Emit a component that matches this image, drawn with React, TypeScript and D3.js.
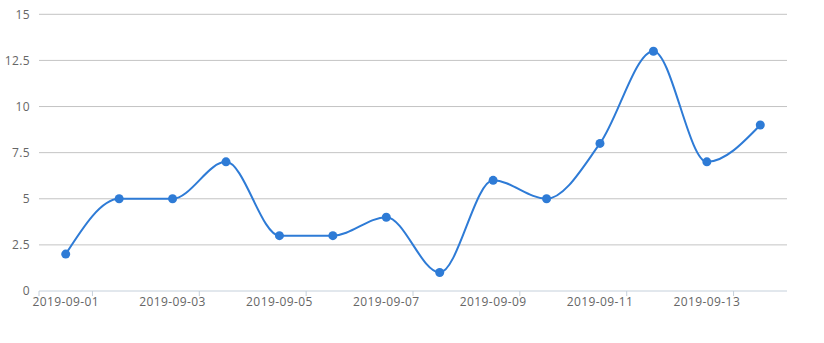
import React from "react";
import * as d3 from "d3";

const dates = [
  "2019-09-01", "2019-09-02", "2019-09-03", "2019-09-04", "2019-09-05",
  "2019-09-06", "2019-09-07", "2019-09-08", "2019-09-09", "2019-09-10",
  "2019-09-11", "2019-09-12", "2019-09-13", "2019-09-14",
];
const values = [2, 5, 5, 7, 3, 3, 4, 1, 6, 5, 8, 13, 7, 9];
const yTicks = [0, 2.5, 5, 7.5, 10, 12.5, 15];

const W = 824;
const H = 343;
const left = 39;
const right = 787;
const top = 14.3;
const bottom = 291;
const blue = "#2e7bd6";
const font = "'Open Sans', sans-serif";

export default function App() {
  const x = d3.scaleBand<string>().domain(dates).range([left, right]).padding(0);
  const y = d3.scaleLinear().domain([0, 15]).range([bottom, top]);
  const cx = (d: string) => (x(d) as number) + x.bandwidth() / 2;
  const line = d3
    .line<number>()
    .x((_, i) => cx(dates[i]))
    .y((v) => y(v))
    .curve(d3.curveMonotoneX);

  const tickXs = [left, ...dates.filter((_, i) => i % 2 === 0).map((d) => (x(d) as number) + x.bandwidth())];

  return (
    <svg width={W} height={H} style={{ position: "absolute", left: 0, top: 0 }}>
      {yTicks.map((t) => (
        <g key={t}>
          {t !== 0 && (
            <line x1={left} x2={right} y1={y(t)} y2={y(t)} stroke="#c4c4c4" strokeWidth={1} />
          )}
          <text
            x={30}
            y={y(t)}
            dy="0.35em"
            textAnchor="end"
            fontFamily={font}
            fontSize={12}
            letterSpacing={0.4}
            fill="#666"
          >
            {t}
          </text>
        </g>
      ))}
      <line x1={left} x2={right} y1={bottom} y2={bottom} stroke="#c5d0db" strokeWidth={1} />
      {tickXs.map((tx, i) => (
        <line key={i} x1={tx} x2={tx} y1={bottom} y2={bottom + 5} stroke="#c5d0db" strokeWidth={1} />
      ))}
      {dates.map((d, i) =>
        i % 2 === 0 ? (
          <text
            key={d}
            x={cx(d)}
            y={306}
            textAnchor="middle"
            fontFamily={font}
            fontSize={12}
            letterSpacing={0.4}
            fill="#666"
          >
            {d}
          </text>
        ) : null
      )}
      <path d={line(values) || ""} fill="none" stroke={blue} strokeWidth={2} />
      {values.map((v, i) => (
        <circle key={i} cx={cx(dates[i])} cy={y(v)} r={4.5} fill={blue} />
      ))}
    </svg>
  );
}
